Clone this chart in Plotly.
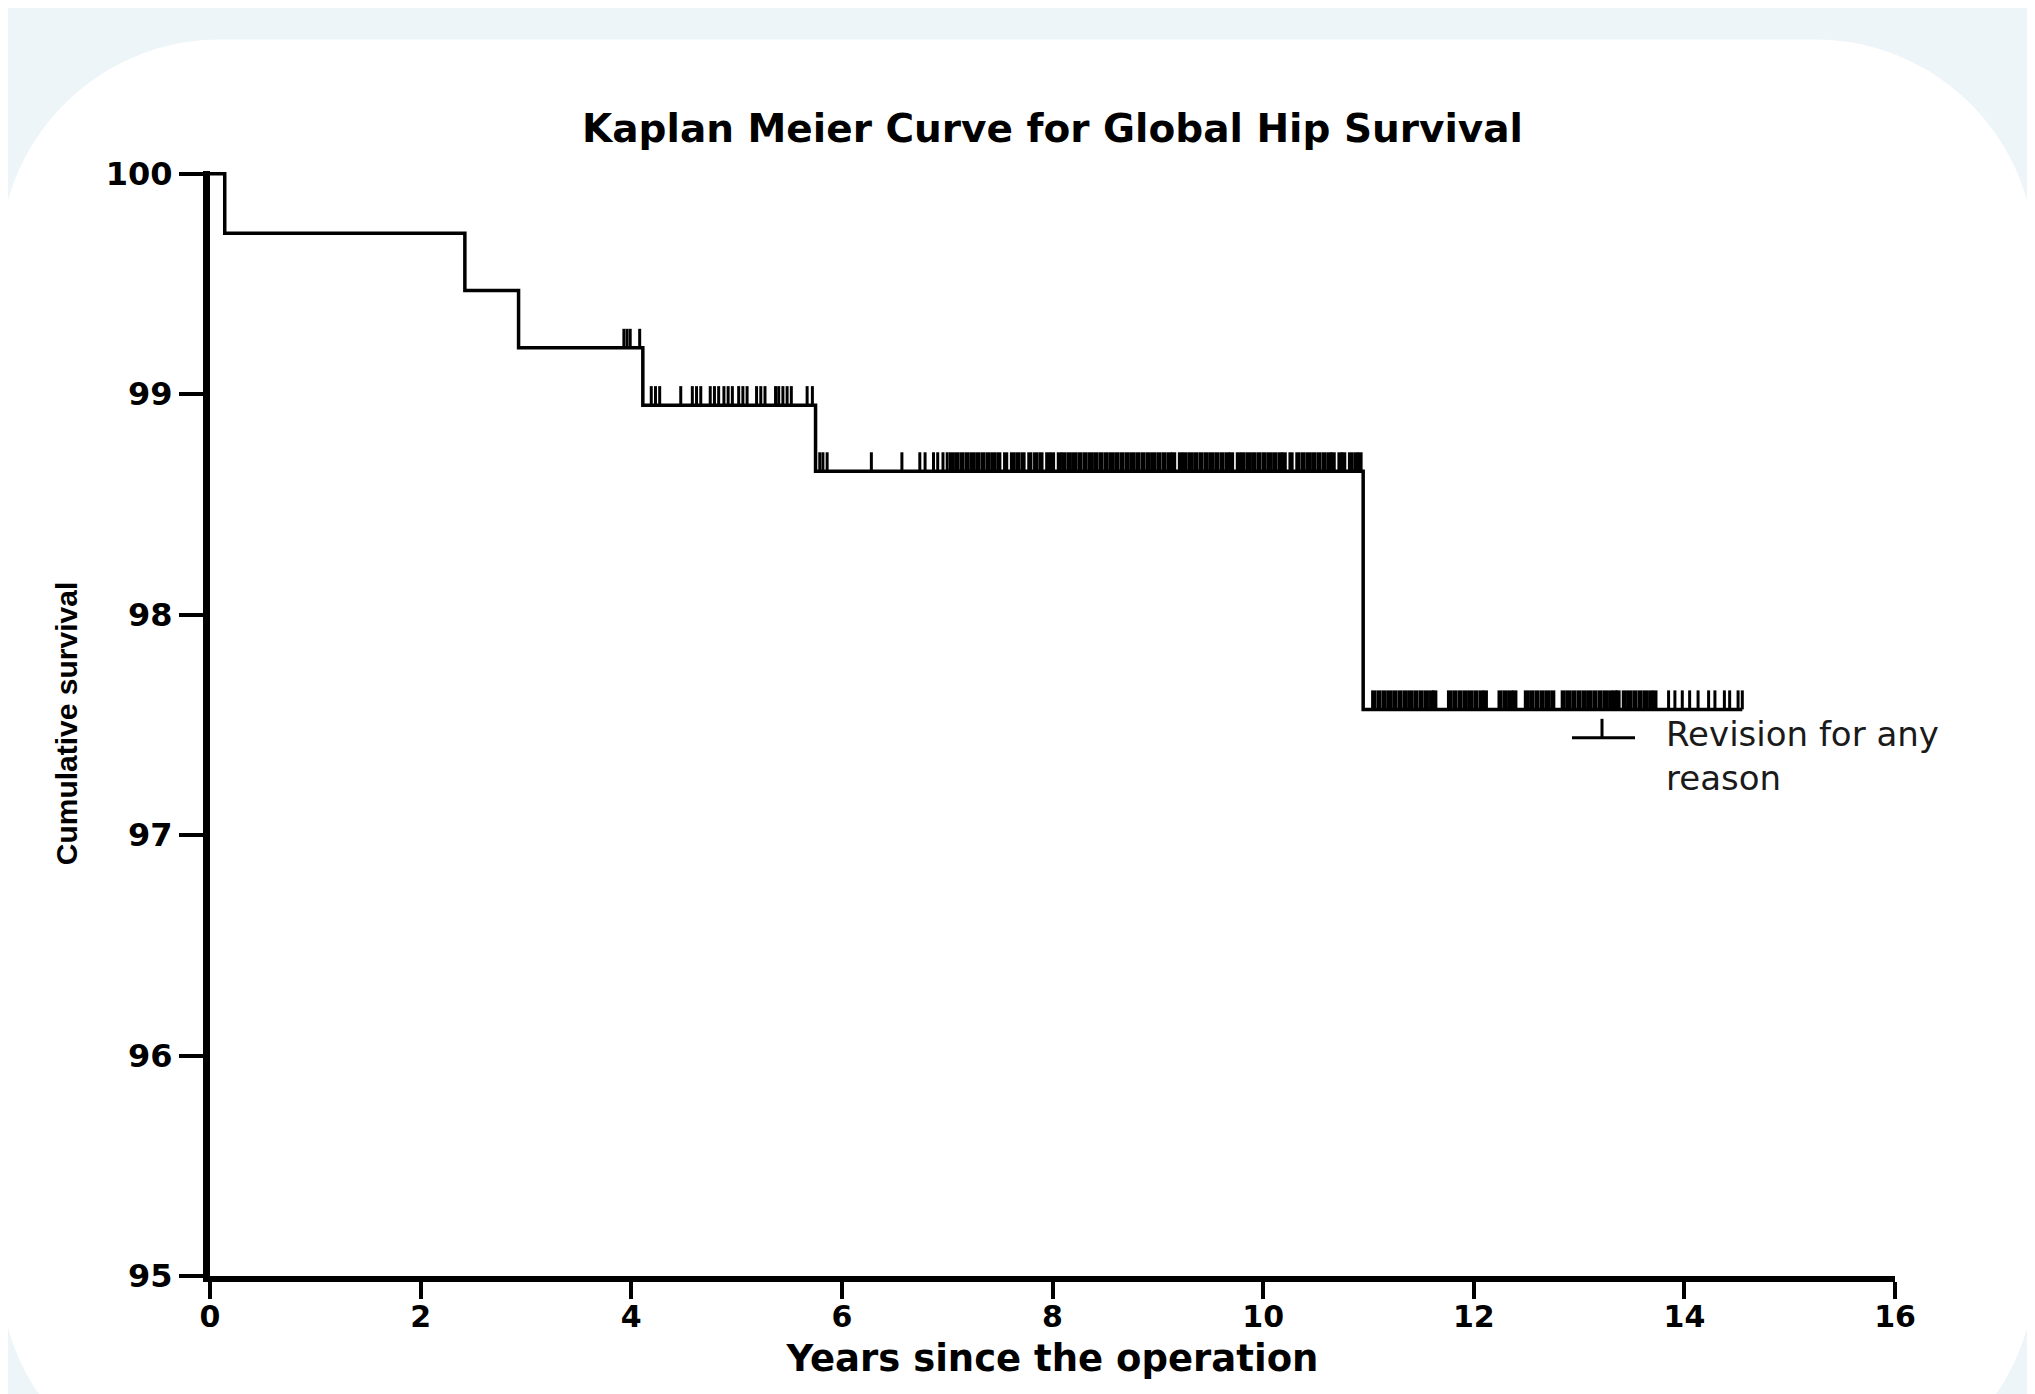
import plotly.graph_objects as go

# ---------------- data ----------------
event_years = [0.14, 2.42, 2.93, 4.11, 5.75, 10.95]
survival_pct = [99.73, 99.47, 99.21, 98.95, 98.65, 97.57]
start_pct = 100.0
last_followup = 14.55

# isolated censoring marks (years)
censored_sparse = [3.93, 3.96, 3.99, 4.08,
                   4.19, 4.23, 4.27, 4.47, 4.58, 4.62, 4.66, 4.75, 4.79, 4.83,
                   4.88, 4.92, 4.96, 5.02, 5.06, 5.10, 5.19, 5.23, 5.27, 5.37,
                   5.40, 5.44, 5.48, 5.52, 5.67, 5.72,
                   5.79, 5.82, 5.86, 6.28, 6.57, 6.74, 6.79, 6.87, 6.91, 6.96, 7.00,
                   13.85, 13.91, 13.98, 14.05, 14.13, 14.23, 14.29, 14.38, 14.43,
                   14.51, 14.55]
# densely packed censoring marks (years)
censored_dense = [7.04, 7.09, 7.14, 7.19, 7.24, 7.29, 7.34, 7.39, 7.44, 7.49,
                  7.555, 7.62, 7.67, 7.72, 7.785, 7.84, 7.89, 7.955, 8.00, 8.065,
                  8.11, 8.16, 8.21, 8.26, 8.31, 8.36, 8.41, 8.46, 8.51, 8.56,
                  8.61, 8.66, 8.71, 8.76, 8.81, 8.86, 8.91, 8.96, 9.01, 9.06,
                  9.11, 9.15, 9.215, 9.26, 9.31, 9.36, 9.41, 9.46, 9.51, 9.56,
                  9.61, 9.66, 9.70, 9.765, 9.81, 9.86, 9.91, 9.96, 10.01, 10.06,
                  10.11, 10.16, 10.20, 10.265, 10.33, 10.38, 10.43, 10.48, 10.53,
                  10.58, 10.63, 10.665, 10.73, 10.765, 10.83, 10.88, 10.92,
                  11.05, 11.10, 11.15, 11.20, 11.25, 11.30, 11.35, 11.40, 11.45,
                  11.50, 11.55, 11.60, 11.63,
                  11.77, 11.82, 11.87, 11.92, 11.97, 12.02, 12.07, 12.11,
                  12.25, 12.30, 12.35, 12.39,
                  12.50, 12.55, 12.60, 12.65, 12.70, 12.75,
                  12.85, 12.90, 12.95, 13.00, 13.05, 13.10, 13.15, 13.20, 13.25,
                  13.30, 13.34, 13.37,
                  13.43, 13.48, 13.53, 13.58, 13.63, 13.68, 13.72]

x_ticks = [0, 2, 4, 6, 8, 10, 12, 14, 16]
y_ticks = [95, 96, 97, 98, 99, 100]

title_text = "Kaplan Meier Curve for Global Hip Survival"
x_title = "Years since the operation"
y_title = "Cumulative survival"
legend_text = "Revision for any<br>reason"

# ---------------- layout geometry (window pixels) ----------------
OFF = 8                      # page body margin of the html page
W, H = 2035, 1394
PX_L, PX_R = 210, 1895
PX_Y100, PX_Y95 = 174, 1276
Y_MIN, Y_MAX = 95, 100.012
px_per_unit = (PX_Y95 - PX_Y100) / 5.0
PX_TOP = PX_Y100 - (Y_MAX - 100) * px_per_unit
PLOT_W = PX_R - PX_L
PLOT_H = PX_Y95 - PX_TOP


def xp(px):
    return (px - PX_L) / PLOT_W


def yp(py):
    return (PX_Y95 - py) / PLOT_H


def level_at(t):
    s = start_pct
    for e, v in zip(event_years, survival_pct):
        if e <= t:
            s = v
    return s


tick_h = 19 / px_per_unit

fig = go.Figure()

# step curve
fig.add_trace(go.Scatter(
    x=[0] + event_years + [last_followup],
    y=[start_pct] + survival_pct + [survival_pct[-1]],
    mode="lines", line=dict(color="black", width=3.5, shape="hv"),
    showlegend=False, hoverinfo="skip"))


def tick_trace(times, width):
    xs, ys = [], []
    for t in times:
        lv = level_at(t)
        xs += [t, t, None]
        ys += [lv, lv + tick_h, None]
    return go.Scatter(x=xs, y=ys, mode="lines",
                      line=dict(color="black", width=width),
                      showlegend=False, hoverinfo="skip")


fig.add_trace(tick_trace(censored_sparse, 3))
fig.add_trace(tick_trace(censored_dense, 5.2))

# ---------------- background card ----------------
x0, x1, y0, y1, r = 0, 2035, 40, 1489, 220
k = 0.5523 * r


def P(px, py):
    return f"{xp(px):.5f},{yp(py):.5f}"


card = (f"M {P(x0 + r, y0)} L {P(x1 - r, y0)} "
        f"C {P(x1 - r + k, y0)} {P(x1, y0 + r - k)} {P(x1, y0 + r)} "
        f"L {P(x1, y1 - r)} "
        f"C {P(x1, y1 - r + k)} {P(x1 - r + k, y1)} {P(x1 - r, y1)} "
        f"L {P(x0 + r, y1)} "
        f"C {P(x0 + r - k, y1)} {P(x0, y1 - r + k)} {P(x0, y1 - r)} "
        f"L {P(x0, y0 + r)} "
        f"C {P(x0, y0 + r - k)} {P(x0 + r - k, y0)} {P(x0 + r, y0)} Z")

shapes = [dict(type="path", path=card, xref="paper", yref="paper",
               fillcolor="white", line=dict(width=0), layer="below")]

# legend sample (line with censor tick)
shapes.append(dict(type="line", xref="paper", yref="paper",
                   x0=xp(1572), x1=xp(1635), y0=yp(738), y1=yp(738),
                   line=dict(color="black", width=3)))
shapes.append(dict(type="line", xref="paper", yref="paper",
                   x0=xp(1602), x1=xp(1602), y0=yp(738), y1=yp(719),
                   line=dict(color="black", width=3)))

annotations = [dict(text=legend_text, xref="paper", yref="paper",
                    x=xp(1664), y=yp(756), xanchor="left", yanchor="middle",
                    align="left", showarrow=False,
                    font=dict(family="DejaVu Sans", size=34, color="#1a1a1a"))]

fig.update_layout(
    width=W - OFF, height=H - OFF,
    margin=dict(l=PX_L - OFF, r=W - PX_R, t=PX_TOP - OFF, b=H - PX_Y95, pad=0),
    paper_bgcolor="#EDF5F9", plot_bgcolor="rgba(0,0,0,0)",
    shapes=shapes, annotations=annotations, showlegend=False,
    title=dict(text=title_text, x=0.5, xref="paper", xanchor="center",
               y=1 - (128 - OFF) / (H - OFF), yref="container", yanchor="middle",
               font=dict(family="DejaVu Sans", size=39, weight="bold", color="black")),
    xaxis=dict(range=[0, 16], tickvals=x_ticks, ticktext=[str(v) for v in x_ticks],
               showline=True, linecolor="black", linewidth=6,
               ticks="outside", ticklen=17, tickwidth=4, tickcolor="black",
               ticklabelstandoff=-8,
               showgrid=False, zeroline=False,
               tickfont=dict(family="DejaVu Sans", size=30, weight="bold", color="black"),
               title=dict(text=x_title, standoff=14,
                          font=dict(family="DejaVu Sans", size=37, weight="bold", color="black"))),
    yaxis=dict(range=[Y_MIN, Y_MAX], tickvals=y_ticks, ticktext=[str(v) for v in y_ticks],
               showline=True, linecolor="black", linewidth=7,
               ticks="outside", ticklen=24, tickwidth=4, tickcolor="black",
               showgrid=False, zeroline=False,
               tickfont=dict(family="DejaVu Sans", size=32, weight="bold", color="black"),
               title=dict(text=y_title, standoff=22,
                          font=dict(family="Liberation Sans", size=30, weight="bold", color="black"))),
)

fig.write_html("out.html")
